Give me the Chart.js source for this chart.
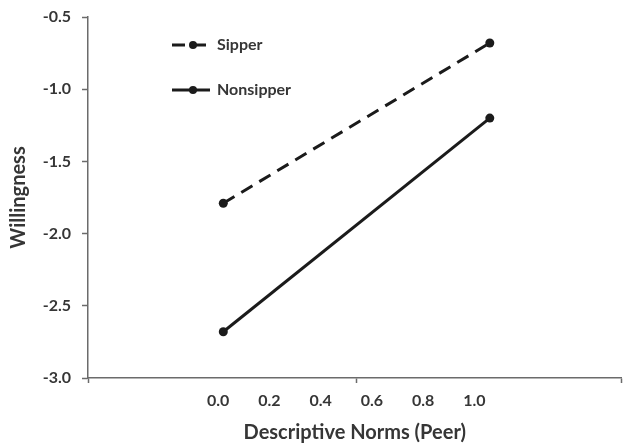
<!DOCTYPE html>
<html>
<head>
<meta charset="utf-8">
<script src="https://cdn.jsdelivr.net/npm/chart.js@4"></script>
<style>
  html, body { margin: 0; padding: 0; background: #fff; }
  #wrap { width: 626px; height: 445px; }
</style>
</head>
<body>
<div id="wrap"><canvas id="chart" width="626" height="445"></canvas></div>
<script>
// values (x on the printed 0.0-1.0 scale)
const seriesNames = ['Sipper', 'Nonsipper'];
const xPoints = [0.02, 1.06];
const sipper = [-1.79, -0.68];
const nonsipper = [-2.68, -1.20];
const xTickValues = [0, 0.2, 0.4, 0.6, 0.8, 1.0];
const xTickMarks = [-0.508, 0.539, 1.574];
const yTicks = [-3.0, -2.5, -2.0, -1.5, -1.0, -0.5];

const ink = '#1b1b1b';
const axisGray = '#6b6b6b';
const textGray = '#363636';
const font = 'Lato, "Open Sans", sans-serif';

const legendPlugin = {
    id: 'insideLegend',
    afterDraw(chart) {
        const c = chart.ctx;
        const a = chart.chartArea;
        chart.data.datasets.forEach((ds, i) => {
            const y = a.top + 28 + i * 45;
            const x0 = a.left + 84, x1 = a.left + 122;
            c.save();
            c.strokeStyle = ink;
            c.lineWidth = 3;
            c.setLineDash(ds.borderDash || []);
            c.beginPath();
            c.moveTo(x0, y);
            c.lineTo(x1, y);
            c.stroke();
            c.setLineDash([]);
            c.fillStyle = ink;
            c.beginPath();
            c.arc((x0 + x1) / 2 + 2, y, 4, 0, Math.PI * 2);
            c.fill();
            c.font = 'bold 16px ' + font;
            c.fillStyle = textGray;
            c.textBaseline = 'middle';
            c.fillText(ds.label, x1 + 7, y);
            c.restore();
        });
    }
};

new Chart(document.getElementById('chart'), {
    type: 'line',
    data: {
        datasets: [
            {
                label: seriesNames[0],
                data: xPoints.map((x, i) => ({ x: x, y: sipper[i] })),
                borderColor: ink,
                backgroundColor: ink,
                borderWidth: 3,
                borderDash: [13, 8],
                pointRadius: 4.5,
                pointBackgroundColor: ink,
                pointBorderWidth: 0
            },
            {
                label: seriesNames[1],
                data: xPoints.map((x, i) => ({ x: x, y: nonsipper[i] })),
                borderColor: ink,
                backgroundColor: ink,
                borderWidth: 3,
                pointRadius: 4.5,
                pointBackgroundColor: ink,
                pointBorderWidth: 0
            }
        ]
    },
    options: {
        responsive: false,
        animation: false,
        layout: { padding: { top: 17, right: 1, left: 0, bottom: 0 } },
        plugins: {
            legend: { display: false },
            tooltip: { enabled: false }
        },
        scales: {
            x: {
                type: 'linear',
                min: xTickMarks[0],
                max: xTickMarks[2],
                afterBuildTicks: (scale) => {
                    scale.ticks = xTickValues.concat(xTickMarks)
                        .sort((a, b) => a - b)
                        .map(v => ({ value: v }));
                },
                afterFit: (scale) => {
                    scale.height = 67;
                    scale.paddingLeft = 0;
                    scale.paddingRight = 0;
                },
                border: { color: axisGray, width: 1.5 },
                grid: {
                    drawOnChartArea: false,
                    tickLength: 5,
                    tickWidth: 1.5,
                    tickColor: (ctx) => xTickMarks.includes(ctx.tick.value) ? axisGray : 'rgba(0,0,0,0)'
                },
                ticks: {
                    autoSkip: false,
                    maxRotation: 0,
                    padding: 8,
                    color: textGray,
                    font: { family: font, size: 16, weight: 'bold' },
                    callback: (v) => xTickValues.includes(v) ? v.toFixed(1) : ''
                },
                title: {
                    display: true,
                    text: 'Descriptive Norms (Peer)',
                    color: textGray,
                    font: { family: font, size: 20, weight: 'bold' },
                    padding: { top: 3, bottom: 0 }
                }
            },
            y: {
                min: yTicks[0],
                max: yTicks[yTicks.length - 1],
                afterBuildTicks: (scale) => {
                    scale.ticks = yTicks.map(v => ({ value: v }));
                },
                afterFit: (scale) => {
                    scale.width = 88;
                    scale.paddingTop = 0;
                    scale.paddingBottom = 0;
                },
                border: { color: axisGray, width: 1.5 },
                grid: {
                    drawOnChartArea: false,
                    tickLength: 6,
                    tickWidth: 1.5,
                    tickColor: axisGray
                },
                ticks: {
                    padding: 11,
                    color: textGray,
                    font: { family: font, size: 16, weight: 'bold' },
                    callback: (v) => v.toFixed(1)
                },
                title: {
                    display: true,
                    text: 'Willingness',
                    color: textGray,
                    font: { family: font, size: 20, weight: 'bold' },
                    padding: { top: 7, bottom: 0 }
                }
            }
        }
    },
    plugins: [legendPlugin]
});
</script>
</body>
</html>
